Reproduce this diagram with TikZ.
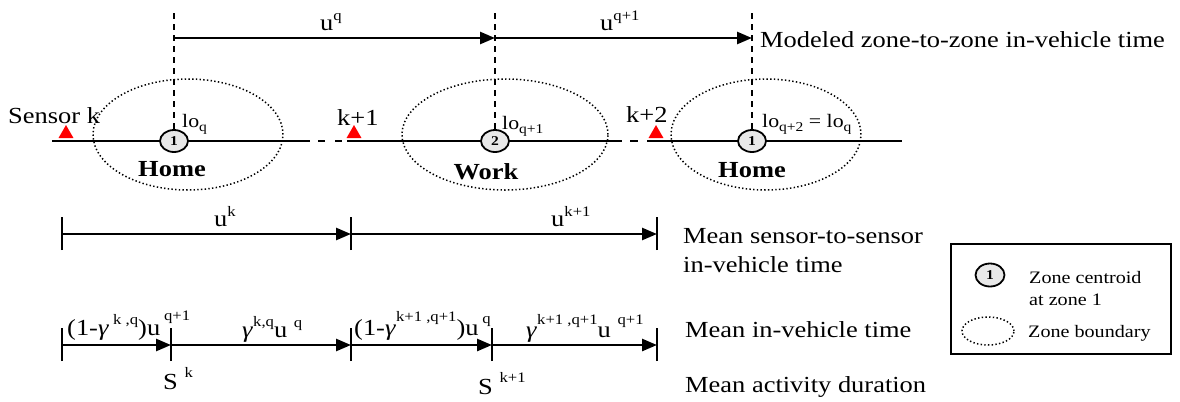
\documentclass[tikz,border=0pt]{standalone}
\usepackage{fontspec}
\setmainfont{Liberation Serif}[FakeStretch=1.15]
\usetikzlibrary{arrows.meta,shapes.geometric}
\newcommand\sps[2][10bp]{\raisebox{#1}{\fontsize{14.5bp}{14bp}\selectfont #2}}
\newcommand\sbs[2][-4bp]{\raisebox{#1}{\fontsize{13.5bp}{13bp}\selectfont #2}}
\newcommand\gam{\textit{γ}}
\tikzset{
  mainfont/.style={font=\fontsize{23bp}{26bp}\selectfont},
  txt/.style={mainfont, inner sep=0pt, anchor=base west},
  lofont/.style={font=\fontsize{19bp}{20bp}\selectfont, inner sep=0pt, anchor=base west},
  legfont/.style={font=\fontsize{17.5bp}{20bp}\selectfont, inner sep=0pt, anchor=base west},
  zone/.style={ellipse, draw, line width=1.5bp, dash pattern=on 1.4bp off 2.3bp, inner sep=0pt},
  centroid/.style={ellipse, draw, line width=1.8bp, fill=gray!18, minimum width=28bp, minimum height=22bp, inner sep=0pt, font=\fontsize{13.5bp}{13bp}\selectfont\bfseries},
  sensor/.style={regular polygon, regular polygon sides=3, fill=red, minimum size=17.3bp, inner sep=0pt},
  road/.style={line width=2bp},
  vdash/.style={line width=1.8bp, dash pattern=on 6bp off 5bp},
  arr/.style={line width=2.6bp, -{Triangle[length=15bp,width=12bp]}},
  tick/.style={line width=1.6bp},
  zonename/.style={font=\fontsize{23bp}{26bp}\selectfont\bfseries, inner sep=0pt, anchor=base},
}
\begin{document}
\begin{tikzpicture}[x=1bp,y=-1bp]
\useasboundingbox (0,0) rectangle (1180,401);
% zones
\node[zone, minimum width=190bp, minimum height=111bp] (zone1) at (188,134.5) {};
\node[zone, minimum width=206bp, minimum height=111bp] (zone2) at (505,134.5) {};
\node[zone, minimum width=190bp, minimum height=111bp] (zone3) at (766,134.5) {};
% road
\coordinate (L0) at (52,141);
\coordinate (L1) at (310,141);
\coordinate (L2) at (347,141);
\coordinate (L3) at (622,141);
\coordinate (L4) at (647,141);
\coordinate (L5) at (902,141);
\draw[road] (L0) -- (L1);
\draw[road, dash pattern=on 0bp off 8bp on 7bp off 10bp on 7bp off 30bp] (L1) -- (L2);
\draw[road] (L2) -- (L3);
\draw[road, dash pattern=on 0bp off 8bp on 8bp off 30bp] (L3) -- (L4);
\draw[road] (L4) -- (L5);
% centroids
\node[centroid] (c1) at (174,141) {1};
\node[centroid] (c2) at (495,141) {2};
\node[centroid] (c3) at (752,141) {1};
% vertical dashed lines
\coordinate (d1) at (174,13);
\coordinate (d2) at (495,13);
\coordinate (d3) at (752,13);
\draw[vdash] (d1) -- (c1.north);
\draw[vdash] (d2) -- (c2.north);
\draw[vdash] (d3) -- (c3.north);
% top arrows
\coordinate (t1) at (174,38);
\coordinate (t2) at (495,38);
\coordinate (t3) at (752,38);
\draw[arr] (t1) -- (t2);
\draw[arr] (t2) -- (t3);
\node[txt] (uq) at (320,30) {u\sps{q}};
\node[txt] (uq1) at (600,30) {u\sps{q+1}};
\node[txt] (modeled) at (760,47) {Modeled zone-to-zone in-vehicle time};
% sensors
\node[sensor] (s1) at (66,133.7) {};
\node[sensor] (s2) at (354,133.7) {};
\node[sensor] (s3) at (656,133.7) {};
\node[txt] (sk) at (8,123) {Sensor k};
\node[txt] (sk1) at (337,125) {k+1};
\node[txt] (sk2) at (626,122) {k+2};
% lo labels
\node[lofont] (lo1) at (182,127) {lo\sbs{q}};
\node[lofont] (lo2) at (502,129) {lo\sbs{q+1}};
\node[lofont] (lo3) at (762,127) {lo\sbs{q+2} = lo\sbs{q}};
% zone names
\node[zonename] (home1) at (172,176) {Home};
\node[zonename] (work) at (486,179) {Work};
\node[zonename] (home2) at (752,177) {Home};
% sensor-to-sensor row
\coordinate (a0) at (62,234);
\coordinate (a1) at (351,234);
\coordinate (a2) at (657,234);
\foreach \p in {a0,a1,a2} \draw[tick] ([yshift=-16bp]\p) -- ([yshift=17bp]\p);
\draw[arr] (a0) -- (a1);
\draw[arr] (a1) -- (a2);
\node[txt] (uk) at (214,226) {u\sps{k}};
\node[txt] (uk1) at (551,226) {u\sps{k+1}};
\node[txt] (mss) at (683,243) {Mean sensor-to-sensor};
\node[txt] (ivt) at (683,272) {in-vehicle time};
% in-vehicle row
\coordinate (b0) at (62,345);
\coordinate (b1) at (171,345);
\coordinate (b2) at (351,345);
\coordinate (b3) at (492,345);
\coordinate (b4) at (657,345);
\foreach \p in {b0,b1,b2,b3,b4} \draw[tick] ([yshift=-16bp]\p) -- ([yshift=17bp]\p);
\draw[arr] (b0) -- (b1);
\draw[arr] (b1) -- (b2);
\draw[arr] (b2) -- (b3);
\draw[arr] (b3) -- (b4);
\node[txt] (lab1) at (67,335) {(1-\gam\sps[11bp]{ k ,q})u\,\sps[15bp]{q+1}};
\node[txt] (lab2) at (242,337) {\gam\sps[11bp]{k,q}u \sps[10bp]{q}};
\node[txt] (lab3) at (354,335) {(1-\gam\sps[14bp]{k+1 ,q+1})u\,\sps[12bp]{q}};
\node[txt] (lab4) at (526,337) {\gam\sps[13bp]{k+1 ,q+1}u \sps[13bp]{q+1}};
\node[txt] (Sk) at (163,389) {S \sps[12bp]{k}};
\node[txt] (Sk1) at (478,394) {S \sps[12bp]{k+1}};
\node[txt] (miv) at (685,337) {Mean in-vehicle time};
\node[txt] (mad) at (685,392) {Mean activity duration};
% legend
\node[draw, line width=1.5bp, minimum width=220bp, minimum height=110bp, inner sep=0pt] (legend) at (1061,299) {};
\node[centroid, minimum width=29bp, minimum height=23bp] (lc) at (990,275) {1};
\node[legfont] (lct) at (1029,283) {Zone centroid};
\node[legfont] (lct2) at (1029,305) {at zone 1};
\node[zone, minimum width=52bp, minimum height=28bp] (lz) at (988,331) {};
\node[legfont] (lzt) at (1028,337) {Zone boundary};
\end{tikzpicture}
\end{document}
